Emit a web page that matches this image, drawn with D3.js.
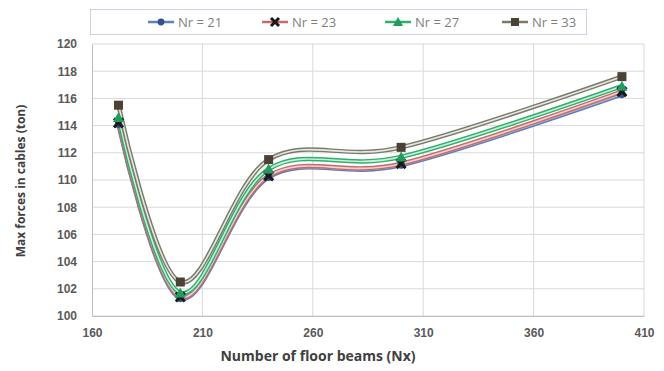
<!DOCTYPE html>
<html>
<head>
<meta charset="utf-8">
<script src="https://cdn.jsdelivr.net/npm/d3@7"></script>
<style>
  html, body { margin: 0; padding: 0; background: #fff; }
  svg { display: block; font-family: "Open Sans", "Liberation Sans", Arial, sans-serif; }
</style>
</head>
<body>
<svg id="chart" width="664" height="371"></svg>
<script>
// Number of floor beams (Nx) at each computed case
const beams = [172, 200, 240, 300, 400];

// Max cable force (ton) for each number of ribs Nr
const nr21 = [114.1, 101.3, 110.2, 111.1, 116.3];
const nr23 = [114.2, 101.4, 110.3, 111.2, 116.5];
const nr27 = [114.6, 101.7, 110.8, 111.7, 116.9];
const nr33 = [115.5, 102.5, 111.5, 112.4, 117.6];

const seriesNames = ["Nr = 21", "Nr = 23", "Nr = 27", "Nr = 33"];
const xTicks = [160, 210, 260, 310, 360, 410];
const yTicks = [100, 102, 104, 106, 108, 110, 112, 114, 116, 118, 120];

const series = [
  { name: seriesNames[0], values: nr21, color: "#5b7fbf", inner: "#b9c9e6", marker: "circle", mcolor: "#34508f" },
  { name: seriesNames[1], values: nr23, color: "#c46a6a", inner: "#f0d0d0", marker: "cross", mcolor: "#1a1a1a" },
  { name: seriesNames[2], values: nr27, color: "#2fae6e", inner: "#c8efd9", marker: "triangle", mcolor: "#1f9d5c" },
  { name: seriesNames[3], values: nr33, color: "#7a7a6c", inner: "#e6eadf", marker: "square", mcolor: "#4b4234" }
];

const svg = d3.select("#chart");

const x = d3.scaleLinear().domain([160, 410]).range([92, 644]);
const y = d3.scaleLinear().domain([100, 120]).range([316, 44]);

// gridlines
const grid = svg.append("g");
grid.selectAll("line.h").data(yTicks).join("line")
  .attr("x1", x(160)).attr("x2", x(410))
  .attr("y1", d => y(d)).attr("y2", d => y(d))
  .attr("stroke", "#d9d9d9").attr("stroke-width", 1);
grid.selectAll("line.v").data(xTicks.slice(1)).join("line")
  .attr("x1", d => x(d)).attr("x2", d => x(d))
  .attr("y1", y(100)).attr("y2", y(120))
  .attr("stroke", "#d9d9d9").attr("stroke-width", 1);

// axes
const xAxis = svg.append("g").attr("transform", `translate(0,${y(100)})`)
  .call(d3.axisBottom(x).tickValues(xTicks).tickSize(0).tickPadding(12));
xAxis.select(".domain").attr("stroke", "#bfbfbf");
xAxis.selectAll("text").attr("font-size", 12).attr("font-weight", "bold").attr("fill", "#595959");

const yAxis = svg.append("g").attr("transform", `translate(${x(160)},0)`)
  .call(d3.axisLeft(y).tickValues(yTicks).tickSize(0).tickPadding(15));
yAxis.select(".domain").attr("stroke", "#bfbfbf");
yAxis.selectAll("text").attr("font-size", 12).attr("font-weight", "bold").attr("fill", "#595959");

// axis titles
svg.append("text")
  .attr("x", 318).attr("y", 361)
  .attr("text-anchor", "middle")
  .attr("font-size", 14).attr("font-weight", "bold").attr("fill", "#404040")
  .text("Number of floor beams (Nx)");
svg.append("text")
  .attr("transform", `translate(25,181) rotate(-90)`)
  .attr("text-anchor", "middle")
  .attr("font-size", 12).attr("font-weight", "bold").attr("fill", "#404040")
  .text("Max forces in cables (ton)");

// smoothed lines
const line = d3.line()
  .x((d, i) => x(beams[i]))
  .y(d => y(d))
  .curve(d3.curveCardinal.tension(0));

const lines = svg.append("g");
series.forEach(s => {
  lines.append("path").attr("d", line(s.values))
    .attr("fill", "none").attr("stroke", s.color).attr("stroke-width", 4.5);
  lines.append("path").attr("d", line(s.values))
    .attr("fill", "none").attr("stroke", s.inner).attr("stroke-width", 1.6);
});

// markers
function drawMarker(g, type, cx, cy, color, size) {
  const r = size / 2;
  if (type === "circle") {
    g.append("circle").attr("cx", cx).attr("cy", cy).attr("r", r * 0.85).attr("fill", color);
  } else if (type === "square") {
    g.append("rect").attr("x", cx - r).attr("y", cy - r).attr("width", size).attr("height", size).attr("fill", color);
  } else if (type === "triangle") {
    g.append("path")
      .attr("d", `M${cx},${cy - r - 1}L${cx + r + 1},${cy + r}L${cx - r - 1},${cy + r}Z`)
      .attr("fill", color);
  } else if (type === "cross") {
    g.append("path")
      .attr("d", `M${cx - r},${cy - r}L${cx + r},${cy + r}M${cx + r},${cy - r}L${cx - r},${cy + r}`)
      .attr("stroke", color).attr("stroke-width", 3);
  }
}

const markers = svg.append("g");
series.forEach(s => {
  s.values.forEach((v, i) => drawMarker(markers, s.marker, x(beams[i]), y(v), s.mcolor, 9));
});

// legend
const legend = svg.append("g");
legend.append("rect")
  .attr("x", 90.5).attr("y", 9.5).attr("width", 496).attr("height", 25)
  .attr("fill", "#fff").attr("stroke", "#c9d3e3").attr("stroke-width", 1);
const legendX = [148, 262, 385, 502];
series.forEach((s, i) => {
  const lx = legendX[i], ly = 22;
  legend.append("line").attr("x1", lx).attr("x2", lx + 26).attr("y1", ly).attr("y2", ly)
    .attr("stroke", s.color).attr("stroke-width", 2.5);
  drawMarker(legend, s.marker, lx + 13, ly, s.mcolor, 8);
  legend.append("text").attr("x", lx + 30).attr("y", ly + 4.5)
    .attr("font-size", 13).attr("fill", "#7f7f7f").text(s.name);
});
</script>
</body>
</html>
